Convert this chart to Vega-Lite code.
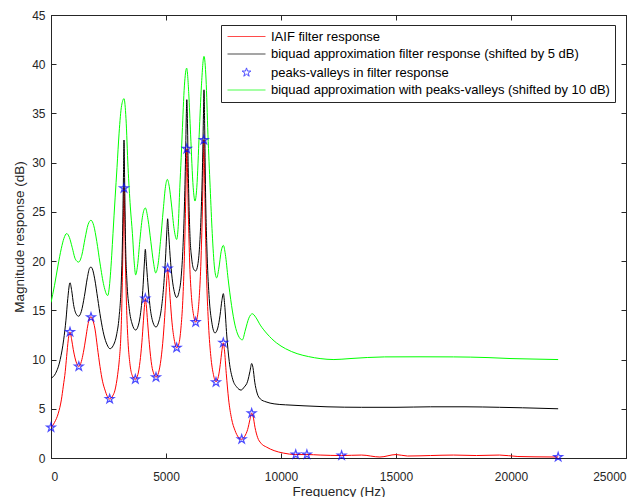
{
  "$schema": "https://vega.github.io/schema/vega-lite/v6.json",
  "width": 575,
  "height": 443,
  "autosize": {"type": "none"},
  "padding": {"left": 51, "top": 15, "right": 18, "bottom": 39},
  "background": "white",
  "config": {
    "font": "Liberation Sans",
    "view": {"stroke": "#262626", "strokeWidth": 1},
    "axis": {
      "grid": false,
      "domainColor": "#262626",
      "tickColor": "#262626",
      "labelColor": "#262626",
      "titleColor": "#262626",
      "labelFont": "Liberation Sans",
      "titleFont": "Liberation Sans",
      "labelFontSize": 12,
      "titleFontSize": 13.5,
      "titleFontWeight": "normal",
      "tickSize": -5,
      "domainWidth": 1,
      "tickWidth": 1
    },
    "legend": {
      "labelFont": "Liberation Sans",
      "labelFontSize": 13,
      "labelColor": "#000000",
      "labelLimit": 0
    }
  },
  "datasets": {
    "curves": [
      {"s":"IAIF","f":0,"db":3.1},{"s":"IAIF","f":150,"db":3.6},{"s":"IAIF","f":318,"db":4.55},{"s":"IAIF","f":450,"db":5.9},{"s":"IAIF","f":535,"db":7.3},{"s":"IAIF","f":620,"db":8.8},{"s":"IAIF","f":680,"db":10.3},{"s":"IAIF","f":750,"db":12.0},{"s":"IAIF","f":826,"db":12.8},{"s":"IAIF","f":900,"db":12.0},{"s":"IAIF","f":970,"db":11.0},{"s":"IAIF","f":1117,"db":9.6},{"s":"IAIF","f":1210,"db":9.3},{"s":"IAIF","f":1320,"db":9.8},{"s":"IAIF","f":1406,"db":10.7},{"s":"IAIF","f":1520,"db":12.3},{"s":"IAIF","f":1594,"db":13.4},{"s":"IAIF","f":1680,"db":14.2},{"s":"IAIF","f":1739,"db":14.35},{"s":"IAIF","f":1800,"db":14.1},{"s":"IAIF","f":1913,"db":13.1},{"s":"IAIF","f":2020,"db":11.2},{"s":"IAIF","f":2130,"db":9.3},{"s":"IAIF","f":2240,"db":7.8},{"s":"IAIF","f":2348,"db":6.9},{"s":"IAIF","f":2451,"db":6.25},{"s":"IAIF","f":2551,"db":6.0},{"s":"IAIF","f":2680,"db":6.3},{"s":"IAIF","f":2783,"db":6.9},{"s":"IAIF","f":2900,"db":8.5},{"s":"IAIF","f":2971,"db":10.0},{"s":"IAIF","f":3030,"db":12.0},{"s":"IAIF","f":3072,"db":14.8},{"s":"IAIF","f":3110,"db":19.0},{"s":"IAIF","f":3150,"db":24.5},{"s":"IAIF","f":3174,"db":27.4},{"s":"IAIF","f":3200,"db":25.0},{"s":"IAIF","f":3240,"db":19.5},{"s":"IAIF","f":3290,"db":15.0},{"s":"IAIF","f":3350,"db":11.8},{"s":"IAIF","f":3430,"db":9.6},{"s":"IAIF","f":3530,"db":8.4},{"s":"IAIF","f":3667,"db":8.0},{"s":"IAIF","f":3780,"db":8.5},{"s":"IAIF","f":3870,"db":9.8},{"s":"IAIF","f":3950,"db":11.7},{"s":"IAIF","f":4020,"db":14.0},{"s":"IAIF","f":4070,"db":15.6},{"s":"IAIF","f":4101,"db":16.2},{"s":"IAIF","f":4140,"db":15.6},{"s":"IAIF","f":4200,"db":13.8},{"s":"IAIF","f":4280,"db":11.5},{"s":"IAIF","f":4380,"db":9.4},{"s":"IAIF","f":4480,"db":8.5},{"s":"IAIF","f":4565,"db":8.2},{"s":"IAIF","f":4680,"db":8.7},{"s":"IAIF","f":4780,"db":10.0},{"s":"IAIF","f":4880,"db":12.3},{"s":"IAIF","f":4960,"db":15.0},{"s":"IAIF","f":5030,"db":18.0},{"s":"IAIF","f":5072,"db":19.25},{"s":"IAIF","f":5110,"db":18.5},{"s":"IAIF","f":5180,"db":16.2},{"s":"IAIF","f":5260,"db":13.8},{"s":"IAIF","f":5360,"db":12.0},{"s":"IAIF","f":5464,"db":11.2},{"s":"IAIF","f":5560,"db":11.6},{"s":"IAIF","f":5650,"db":13.2},{"s":"IAIF","f":5730,"db":16.0},{"s":"IAIF","f":5800,"db":20.5},{"s":"IAIF","f":5850,"db":25.5},{"s":"IAIF","f":5885,"db":29.5},{"s":"IAIF","f":5905,"db":31.4},{"s":"IAIF","f":5930,"db":29.5},{"s":"IAIF","f":5970,"db":25.0},{"s":"IAIF","f":6030,"db":19.8},{"s":"IAIF","f":6110,"db":16.3},{"s":"IAIF","f":6200,"db":14.5},{"s":"IAIF","f":6290,"db":13.8},{"s":"IAIF","f":6380,"db":14.6},{"s":"IAIF","f":6450,"db":16.5},{"s":"IAIF","f":6520,"db":20.0},{"s":"IAIF","f":6580,"db":25.0},{"s":"IAIF","f":6620,"db":29.5},{"s":"IAIF","f":6645,"db":32.3},{"s":"IAIF","f":6670,"db":30.0},{"s":"IAIF","f":6710,"db":24.0},{"s":"IAIF","f":6770,"db":18.0},{"s":"IAIF","f":6850,"db":13.5},{"s":"IAIF","f":6950,"db":10.3},{"s":"IAIF","f":7060,"db":8.5},{"s":"IAIF","f":7174,"db":7.75},{"s":"IAIF","f":7280,"db":8.3},{"s":"IAIF","f":7360,"db":9.5},{"s":"IAIF","f":7430,"db":10.9},{"s":"IAIF","f":7491,"db":11.7},{"s":"IAIF","f":7540,"db":11.0},{"s":"IAIF","f":7620,"db":8.6},{"s":"IAIF","f":7720,"db":6.0},{"s":"IAIF","f":7850,"db":4.0},{"s":"IAIF","f":8000,"db":2.8},{"s":"IAIF","f":8150,"db":2.1},{"s":"IAIF","f":8291,"db":1.9},{"s":"IAIF","f":8420,"db":2.2},{"s":"IAIF","f":8550,"db":2.9},{"s":"IAIF","f":8650,"db":3.9},{"s":"IAIF","f":8725,"db":4.55},{"s":"IAIF","f":8790,"db":4.2},{"s":"IAIF","f":8870,"db":3.1},{"s":"IAIF","f":8980,"db":2.1},{"s":"IAIF","f":9130,"db":1.5},{"s":"IAIF","f":9377,"db":1.1},{"s":"IAIF","f":9700,"db":0.75},{"s":"IAIF","f":10101,"db":0.5},{"s":"IAIF","f":10640,"db":0.35},{"s":"IAIF","f":11125,"db":0.35},{"s":"IAIF","f":11700,"db":0.3},{"s":"IAIF","f":12635,"db":0.25},{"s":"IAIF","f":13500,"db":0.3},{"s":"IAIF","f":14300,"db":0.1},{"s":"IAIF","f":15000,"db":0.35},{"s":"IAIF","f":15500,"db":0.2},{"s":"IAIF","f":16500,"db":0.25},{"s":"IAIF","f":17500,"db":0.3},{"s":"IAIF","f":18500,"db":0.25},{"s":"IAIF","f":19500,"db":0.3},{"s":"IAIF","f":20300,"db":0.15},{"s":"IAIF","f":21000,"db":0.12},{"s":"IAIF","f":22050,"db":0.1},
      {"s":"biquad5","f":0,"db":8.1},{"s":"biquad5","f":200,"db":8.6},{"s":"biquad5","f":400,"db":10.0},{"s":"biquad5","f":550,"db":12.0},{"s":"biquad5","f":650,"db":14.0},{"s":"biquad5","f":730,"db":16.2},{"s":"biquad5","f":826,"db":17.8},{"s":"biquad5","f":900,"db":17.0},{"s":"biquad5","f":980,"db":15.6},{"s":"biquad5","f":1100,"db":14.6},{"s":"biquad5","f":1203,"db":14.4},{"s":"biquad5","f":1320,"db":14.9},{"s":"biquad5","f":1450,"db":16.4},{"s":"biquad5","f":1580,"db":18.3},{"s":"biquad5","f":1680,"db":19.3},{"s":"biquad5","f":1739,"db":19.4},{"s":"biquad5","f":1800,"db":19.2},{"s":"biquad5","f":1900,"db":18.2},{"s":"biquad5","f":2030,"db":16.2},{"s":"biquad5","f":2160,"db":14.2},{"s":"biquad5","f":2300,"db":12.5},{"s":"biquad5","f":2440,"db":11.5},{"s":"biquad5","f":2565,"db":11.1},{"s":"biquad5","f":2700,"db":11.4},{"s":"biquad5","f":2850,"db":12.5},{"s":"biquad5","f":2960,"db":14.3},{"s":"biquad5","f":3050,"db":17.5},{"s":"biquad5","f":3110,"db":22.5},{"s":"biquad5","f":3150,"db":28.5},{"s":"biquad5","f":3174,"db":32.3},{"s":"biquad5","f":3200,"db":28.5},{"s":"biquad5","f":3240,"db":22.0},{"s":"biquad5","f":3300,"db":18.0},{"s":"biquad5","f":3400,"db":15.2},{"s":"biquad5","f":3530,"db":13.6},{"s":"biquad5","f":3681,"db":13.0},{"s":"biquad5","f":3800,"db":13.5},{"s":"biquad5","f":3900,"db":14.8},{"s":"biquad5","f":3990,"db":17.0},{"s":"biquad5","f":4060,"db":19.8},{"s":"biquad5","f":4101,"db":21.2},{"s":"biquad5","f":4140,"db":20.0},{"s":"biquad5","f":4210,"db":17.8},{"s":"biquad5","f":4300,"db":15.5},{"s":"biquad5","f":4430,"db":13.8},{"s":"biquad5","f":4565,"db":13.3},{"s":"biquad5","f":4680,"db":13.8},{"s":"biquad5","f":4800,"db":15.2},{"s":"biquad5","f":4900,"db":17.5},{"s":"biquad5","f":4990,"db":20.8},{"s":"biquad5","f":5040,"db":23.2},{"s":"biquad5","f":5072,"db":24.3},{"s":"biquad5","f":5110,"db":23.0},{"s":"biquad5","f":5180,"db":20.5},{"s":"biquad5","f":5270,"db":18.2},{"s":"biquad5","f":5360,"db":16.9},{"s":"biquad5","f":5464,"db":16.3},{"s":"biquad5","f":5560,"db":16.8},{"s":"biquad5","f":5660,"db":18.4},{"s":"biquad5","f":5740,"db":21.5},{"s":"biquad5","f":5800,"db":25.5},{"s":"biquad5","f":5850,"db":30.5},{"s":"biquad5","f":5885,"db":35.0},{"s":"biquad5","f":5905,"db":36.4},{"s":"biquad5","f":5930,"db":34.5},{"s":"biquad5","f":5965,"db":29.5},{"s":"biquad5","f":6039,"db":22.8},{"s":"biquad5","f":6120,"db":20.2},{"s":"biquad5","f":6200,"db":19.2},{"s":"biquad5","f":6290,"db":19.0},{"s":"biquad5","f":6380,"db":19.6},{"s":"biquad5","f":6460,"db":21.5},{"s":"biquad5","f":6530,"db":25.0},{"s":"biquad5","f":6590,"db":30.0},{"s":"biquad5","f":6630,"db":35.0},{"s":"biquad5","f":6652,"db":37.4},{"s":"biquad5","f":6680,"db":34.0},{"s":"biquad5","f":6720,"db":27.0},{"s":"biquad5","f":6790,"db":20.5},{"s":"biquad5","f":6880,"db":16.2},{"s":"biquad5","f":6990,"db":13.8},{"s":"biquad5","f":7130,"db":12.7},{"s":"biquad5","f":7250,"db":13.2},{"s":"biquad5","f":7350,"db":14.5},{"s":"biquad5","f":7430,"db":16.0},{"s":"biquad5","f":7493,"db":16.7},{"s":"biquad5","f":7550,"db":15.6},{"s":"biquad5","f":7640,"db":12.5},{"s":"biquad5","f":7750,"db":9.8},{"s":"biquad5","f":7900,"db":8.0},{"s":"biquad5","f":8080,"db":7.2},{"s":"biquad5","f":8261,"db":6.9},{"s":"biquad5","f":8400,"db":7.2},{"s":"biquad5","f":8550,"db":7.8},{"s":"biquad5","f":8650,"db":8.8},{"s":"biquad5","f":8725,"db":9.6},{"s":"biquad5","f":8780,"db":9.2},{"s":"biquad5","f":8860,"db":7.7},{"s":"biquad5","f":8960,"db":6.6},{"s":"biquad5","f":9100,"db":6.0},{"s":"biquad5","f":9350,"db":5.7},{"s":"biquad5","f":9700,"db":5.5},{"s":"biquad5","f":10200,"db":5.4},{"s":"biquad5","f":11000,"db":5.3},{"s":"biquad5","f":12000,"db":5.2},{"s":"biquad5","f":13500,"db":5.15},{"s":"biquad5","f":15000,"db":5.15},{"s":"biquad5","f":16500,"db":5.2},{"s":"biquad5","f":18000,"db":5.2},{"s":"biquad5","f":19500,"db":5.15},{"s":"biquad5","f":20500,"db":5.1},{"s":"biquad5","f":22050,"db":5.0},
      {"s":"biquad10","f":0,"db":15.8},{"s":"biquad10","f":150,"db":17.5},{"s":"biquad10","f":300,"db":19.5},{"s":"biquad10","f":450,"db":21.3},{"s":"biquad10","f":560,"db":22.3},{"s":"biquad10","f":682,"db":22.8},{"s":"biquad10","f":800,"db":22.4},{"s":"biquad10","f":920,"db":21.4},{"s":"biquad10","f":1060,"db":20.2},{"s":"biquad10","f":1203,"db":19.9},{"s":"biquad10","f":1340,"db":20.6},{"s":"biquad10","f":1480,"db":22.3},{"s":"biquad10","f":1610,"db":23.7},{"s":"biquad10","f":1739,"db":24.15},{"s":"biquad10","f":1860,"db":23.6},{"s":"biquad10","f":1990,"db":22.0},{"s":"biquad10","f":2130,"db":19.8},{"s":"biquad10","f":2300,"db":17.5},{"s":"biquad10","f":2464,"db":16.5},{"s":"biquad10","f":2580,"db":18.5},{"s":"biquad10","f":2640,"db":20.6},{"s":"biquad10","f":2695,"db":22.8},{"s":"biquad10","f":2790,"db":26.5},{"s":"biquad10","f":2870,"db":29.5},{"s":"biquad10","f":2960,"db":33.0},{"s":"biquad10","f":3070,"db":35.8},{"s":"biquad10","f":3174,"db":36.5},{"s":"biquad10","f":3260,"db":34.5},{"s":"biquad10","f":3350,"db":29.5},{"s":"biquad10","f":3450,"db":25.5},{"s":"biquad10","f":3540,"db":22.8},{"s":"biquad10","f":3620,"db":19.8},{"s":"biquad10","f":3681,"db":18.6},{"s":"biquad10","f":3760,"db":19.5},{"s":"biquad10","f":3860,"db":22.0},{"s":"biquad10","f":3970,"db":24.4},{"s":"biquad10","f":4101,"db":25.4},{"s":"biquad10","f":4220,"db":24.2},{"s":"biquad10","f":4340,"db":22.0},{"s":"biquad10","f":4460,"db":19.8},{"s":"biquad10","f":4551,"db":18.8},{"s":"biquad10","f":4650,"db":19.6},{"s":"biquad10","f":4760,"db":22.0},{"s":"biquad10","f":4880,"db":25.2},{"s":"biquad10","f":4980,"db":27.6},{"s":"biquad10","f":5058,"db":28.3},{"s":"biquad10","f":5140,"db":27.6},{"s":"biquad10","f":5240,"db":25.7},{"s":"biquad10","f":5350,"db":23.3},{"s":"biquad10","f":5464,"db":22.2},{"s":"biquad10","f":5530,"db":23.5},{"s":"biquad10","f":5601,"db":27.5},{"s":"biquad10","f":5660,"db":30.5},{"s":"biquad10","f":5703,"db":32.9},{"s":"biquad10","f":5800,"db":37.8},{"s":"biquad10","f":5899,"db":39.6},{"s":"biquad10","f":5990,"db":37.0},{"s":"biquad10","f":6069,"db":32.9},{"s":"biquad10","f":6182,"db":27.5},{"s":"biquad10","f":6261,"db":26.1},{"s":"biquad10","f":6340,"db":27.5},{"s":"biquad10","f":6444,"db":32.9},{"s":"biquad10","f":6540,"db":37.8},{"s":"biquad10","f":6652,"db":40.8},{"s":"biquad10","f":6740,"db":38.5},{"s":"biquad10","f":6823,"db":32.9},{"s":"biquad10","f":6920,"db":27.5},{"s":"biquad10","f":7011,"db":22.8},{"s":"biquad10","f":7110,"db":19.3},{"s":"biquad10","f":7203,"db":18.3},{"s":"biquad10","f":7300,"db":19.3},{"s":"biquad10","f":7400,"db":21.0},{"s":"biquad10","f":7493,"db":21.6},{"s":"biquad10","f":7580,"db":20.7},{"s":"biquad10","f":7700,"db":18.2},{"s":"biquad10","f":7850,"db":15.5},{"s":"biquad10","f":8000,"db":13.5},{"s":"biquad10","f":8150,"db":12.4},{"s":"biquad10","f":8319,"db":12.0},{"s":"biquad10","f":8450,"db":13.0},{"s":"biquad10","f":8600,"db":14.2},{"s":"biquad10","f":8754,"db":14.65},{"s":"biquad10","f":8900,"db":14.3},{"s":"biquad10","f":9100,"db":13.5},{"s":"biquad10","f":9400,"db":12.6},{"s":"biquad10","f":9800,"db":11.7},{"s":"biquad10","f":10200,"db":11.1},{"s":"biquad10","f":10700,"db":10.6},{"s":"biquad10","f":11200,"db":10.3},{"s":"biquad10","f":11700,"db":10.1},{"s":"biquad10","f":12300,"db":10.0},{"s":"biquad10","f":13000,"db":10.1},{"s":"biquad10","f":14500,"db":10.27},{"s":"biquad10","f":16000,"db":10.28},{"s":"biquad10","f":17500,"db":10.27},{"s":"biquad10","f":19000,"db":10.2},{"s":"biquad10","f":20000,"db":10.1},{"s":"biquad10","f":21000,"db":10.05},{"s":"biquad10","f":22050,"db":10.0}
    ],
    "stars": [
      {"s":"peaks","f":0,"db":3.1},{"s":"peaks","f":826,"db":12.8},{"s":"peaks","f":1210,"db":9.3},{"s":"peaks","f":1739,"db":14.3},{"s":"peaks","f":2551,"db":6.0},{"s":"peaks","f":3174,"db":27.4},{"s":"peaks","f":3667,"db":8.0},{"s":"peaks","f":4101,"db":16.2},{"s":"peaks","f":4565,"db":8.2},{"s":"peaks","f":5072,"db":19.25},{"s":"peaks","f":5464,"db":11.2},{"s":"peaks","f":5905,"db":31.4},{"s":"peaks","f":6290,"db":13.8},{"s":"peaks","f":6645,"db":32.3},{"s":"peaks","f":7174,"db":7.7},{"s":"peaks","f":7491,"db":11.7},{"s":"peaks","f":8291,"db":1.9},{"s":"peaks","f":8725,"db":4.55},{"s":"peaks","f":10640,"db":0.35},{"s":"peaks","f":11125,"db":0.35},{"s":"peaks","f":12635,"db":0.25},{"s":"peaks","f":22050,"db":0.1}
    ]
  },
  "layer": [
    {
      "data": {"name": "curves"},
      "mark": {"type": "line", "strokeWidth": 1, "interpolate": "monotone", "clip": true},
      "encoding": {
        "x": {"field": "f", "type": "quantitative", "scale": {"domain": [0, 25000], "nice": false, "zero": false},
              "axis": {"orient": "bottom", "values": [0, 5000, 10000, 15000, 20000, 25000], "format": "d", "title": "Frequency (Hz)", "labelPadding": 18, "titlePadding": 2}},
        "y": {"field": "db", "type": "quantitative", "scale": {"domain": [0, 45], "nice": false},
              "axis": {"orient": "left", "values": [0, 5, 10, 15, 20, 25, 30, 35, 40, 45], "title": "Magnitude response (dB)", "labelPadding": 11, "titlePadding": 5}},
        "color": {"field": "s", "type": "nominal",
          "scale": {"domain": ["IAIF", "biquad5", "peaks", "biquad10"], "range": ["#ff0000", "#000000", "#0000ff", "#00ff00"]},
          "legend": {
            "title": null, "orient": "none", "legendX": 170, "legendY": 10,
            "labelExpr": "datum.value == 'IAIF' ? 'IAIF filter response' : datum.value == 'biquad5' ? 'biquad approximation filter response (shifted by 5 dB)' : datum.value == 'peaks' ? 'peaks-valleys in filter response' : 'biquad approximation with peaks-valleys (shifted by 10 dB)'",
            "strokeColor": "#262626", "fillColor": "white", "padding": 5, "rowPadding": 3.5,
            "symbolSize": 100, "symbolOffset": 14, "labelOffset": 18, "symbolStrokeWidth": 1
          }
        },
        "detail": {"field": "s"},
        "order": {"field": "f", "type": "quantitative"}
      }
    },
    {
      "data": {"name": "stars"},
      "mark": {"type": "point", "filled": false, "strokeWidth": 1.2, "size": 100},
      "encoding": {
        "x": {"field": "f", "type": "quantitative", "scale": {"domain": [0, 25000], "nice": false},
              "axis": {"orient": "top", "tickCount": 5, "labelExpr": "''", "title": ""}},
        "y": {"field": "db", "type": "quantitative", "scale": {"domain": [0, 45], "nice": false},
              "axis": {"orient": "right", "tickCount": 9, "labelExpr": "''", "title": ""}},
        "color": {"field": "s", "type": "nominal"},
        "shape": {"field": "s", "type": "nominal",
          "scale": {"domain": ["IAIF", "biquad5", "peaks", "biquad10"],
                    "range": ["M-3.8,0L3.8,0", "M-3.8,0L3.8,0", "M0,-0.92L0.207,-0.285L0.875,-0.285L0.335,0.108L0.541,0.744L0,0.352L-0.541,0.744L-0.335,0.108L-0.875,-0.285L-0.207,-0.285Z", "M-3.8,0L3.8,0"]}}
      }
    }
  ],
  "resolve": {"scale": {"x": "independent", "y": "independent"}}
}
